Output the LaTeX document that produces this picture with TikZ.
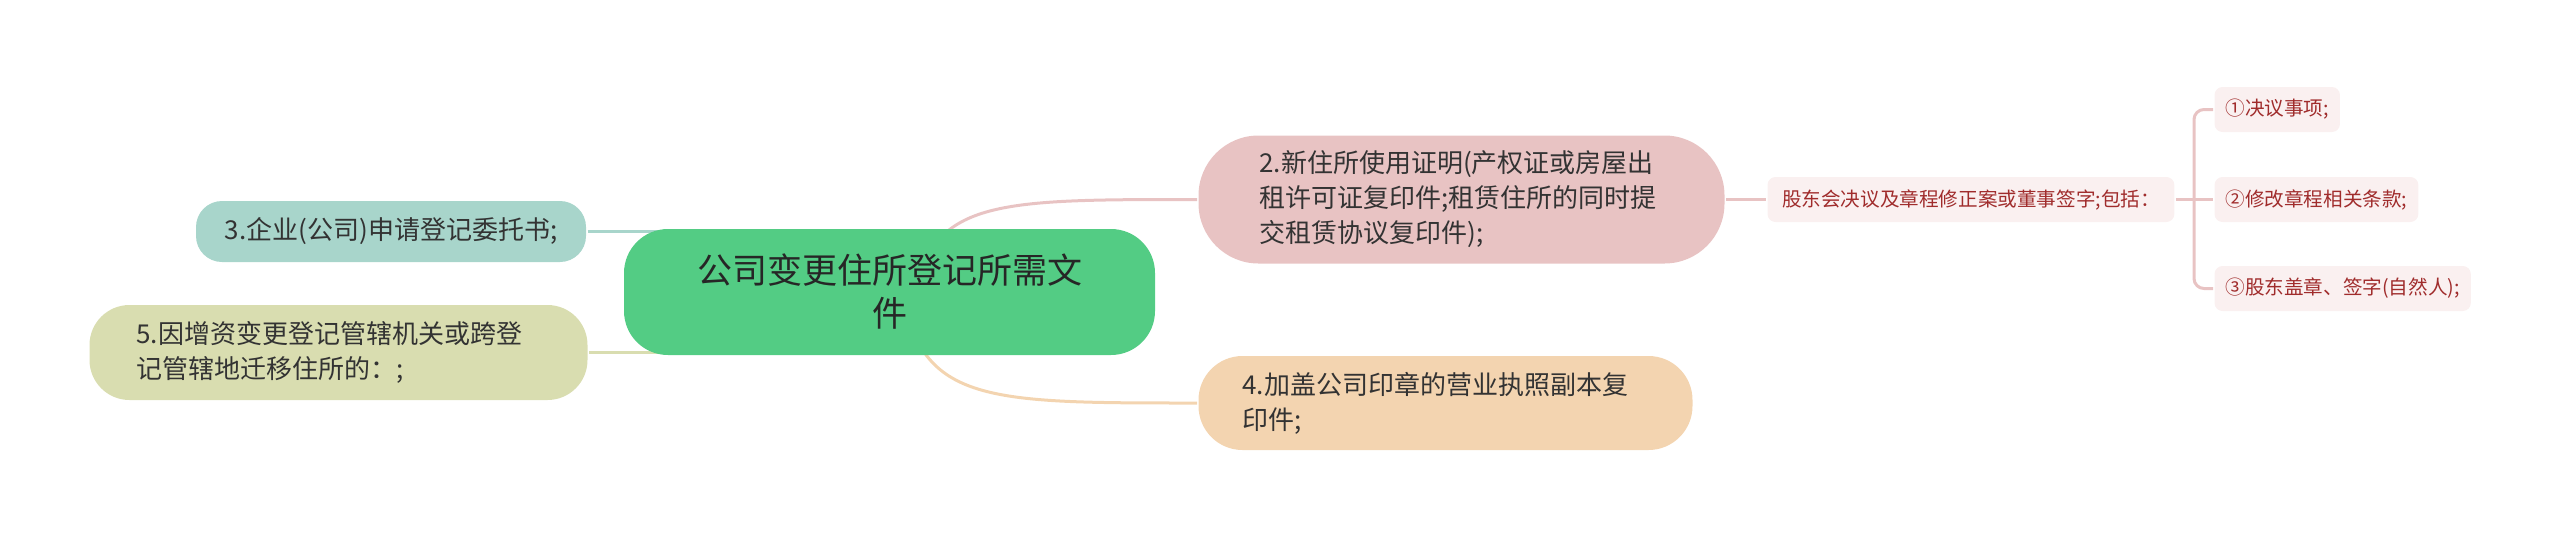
\documentclass[tikz,border=0pt]{standalone}
\usepackage{fontspec}
\newfontfamily\cjk{Noto Sans CJK SC}
\usepackage{tikz}
\usetikzlibrary{
	backgrounds,
	calc
}
\definecolor{RootFill}{HTML}{53CC84}
\definecolor{TealBox}{HTML}{A8D5CB}
\definecolor{OliveBox}{HTML}{D9DDB0}
\definecolor{PinkBox}{HTML}{E8C3C3}
\definecolor{PeachBox}{HTML}{F3D4B0}
\definecolor{TagFill}{HTML}{FAF0F0}
\definecolor{TagText}{HTML}{A02C2C}
\definecolor{MainText}{HTML}{333333}
\tikzset{every path/.append style={line width=1.5pt}}
\tikzset{
	root/.style={fill=RootFill,text=black!85,align=center,minimum width=265.5pt,minimum height=63pt,rounded corners=22pt,inner ysep=2pt,font=\cjk\fontsize{17.5}{21.5}\selectfont},
	pill/.style={text=MainText,align=left,inner ysep=2pt,font=\cjk\fontsize{13}{17.5}\selectfont},
	tag/.style={fill=TagFill,text=TagText,anchor=west,minimum height=22.5pt,rounded corners=4pt,inner xsep=5.5pt,inner ysep=1pt,font=\cjk\fontsize{9.8}{12}\selectfont}
}
\newcommand{\mapNode}[4][]{\node (#3) at #2 [#1]{#4};}

\begin{document}
\begin{tikzpicture}[x=0.5pt,y=-0.5pt]
	\useasboundingbox (0,0) rectangle (2560,537);
	
	\mapNode[root]{(889.5,292)}{root}{公司变更住所登记所需文\\件}
	
	% Left branches
	\mapNode[pill,fill=TealBox,minimum width=195pt,minimum height=30.5pt,rounded corners=13pt]{(391,231.5)}{n3}{3.企业(公司)申请登记委托书;}
	\mapNode[pill,fill=OliveBox,anchor=west,inner xsep=23.5pt,text width=202pt,minimum height=47.5pt,rounded corners=20pt]{(88,352.5)}{n5}{5.因增资变更登记管辖机关或跨登\\记管辖地迁移住所的：;}
	
	% Right branches
	\mapNode[pill,fill=PinkBox,anchor=west,inner xsep=30.5pt,text width=202pt,minimum height=64pt,rounded corners=30pt]{(1197,199.5)}{n2}{2.新住所使用证明(产权证或房屋出\\租许可证复印件;租赁住所的同时提\\交租赁协议复印件);}
	\mapNode[pill,fill=PeachBox,anchor=west,inner xsep=22pt,text width=203pt,minimum height=47pt,rounded corners=22pt]{(1197,403)}{n4}{4.加盖公司印章的营业执照副本复\\印件;}
	
	% Sub-items of n2
	\mapNode[tag,inner xsep=7.25pt]{(1766,199.5)}{gd}{股东会决议及章程修正案或董事签字;包括：}
	\mapNode[tag]{(2213,109.5)}{one}{①决议事项;}
	\mapNode[tag]{(2213,199.5)}{two}{②修改章程相关条款;}
	\mapNode[tag]{(2213,288.5)}{three}{③股东盖章、签字(自然人);}
	
	\begin{scope}[on background layer]
		\draw[TealBox] (n3.east) -- (n3.east -| root.center);
		\draw[OliveBox] (n5.east) -- (n5.east -| root.center);
		\draw[PinkBox] ($(root.center)+(25.5,0)$) .. controls ($(root.center)+(45.5,-92.5)$) and ($(root.center)+(110.5,-92.5)$) .. (n2.west);
		\draw[PeachBox] ($(root.center)+(12.5,0)$) .. controls ($(root.center)+(32.5,111)$) and ($(root.center)+(97.5,111)$) .. (n4.west);
		
		\draw[PinkBox] (n2.east) -- (gd.west);
		\coordinate (br) at (2194,199.5);
		\draw[PinkBox] (gd.east) -- (two.west);
		\draw[PinkBox,rounded corners=5pt] (one.west) -| (br) |- (three.west);
	\end{scope}
\end{tikzpicture}
\end{document}
